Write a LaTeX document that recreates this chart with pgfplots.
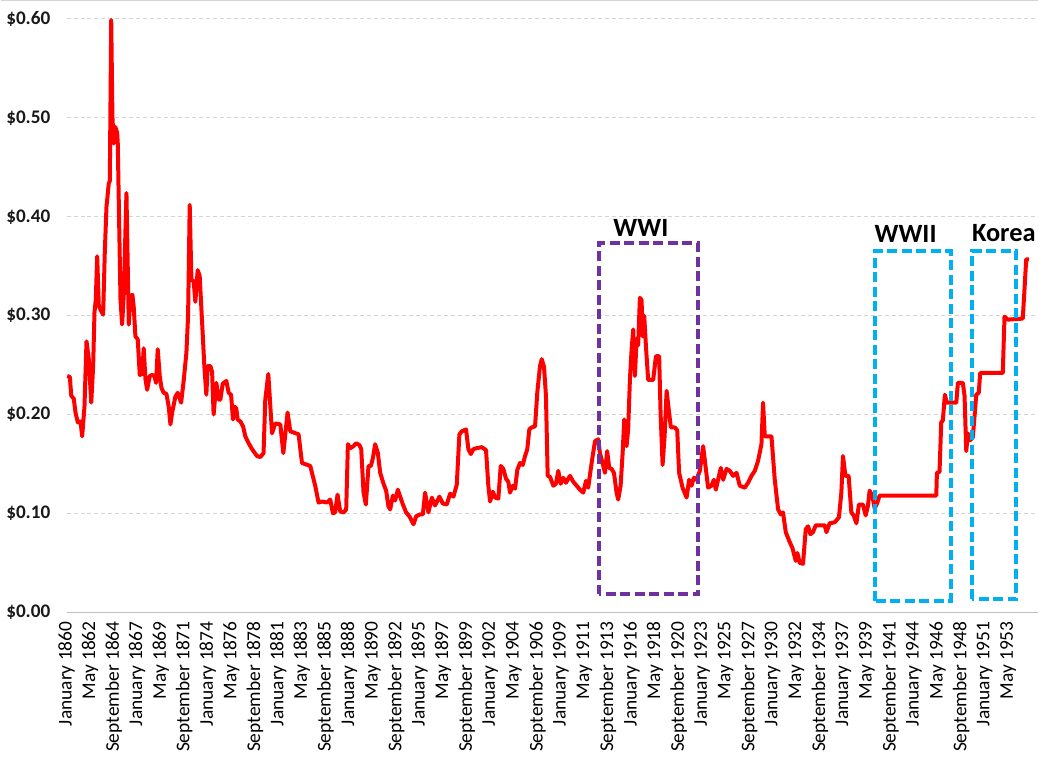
\documentclass[border=0pt]{standalone}
\usepackage{pgfplots}
\pgfplotsset{compat=1.18}
\usepackage{fontspec}
\setmainfont{Carlito}
\definecolor{wwone}{HTML}{7030A0}
\definecolor{wwtwo}{HTML}{00B0F0}
\definecolor{gridc}{HTML}{D4D4D4}
\begin{document}
\begin{tikzpicture}
\begin{axis}[
  scale only axis,
  width=973bp, height=594bp,
  xmin=1860, xmax=1956.33,
  ymin=0, ymax=0.6,
  clip=false,
  axis line style={draw=none},
  axis x line*=bottom,
  ytick={0,0.1,0.2,0.3,0.4,0.5,0.6},
  yticklabels={\$0.00,\$0.10,\$0.20,\$0.30,\$0.40,\$0.50,\$0.60},
  yticklabel style={font=\fontsize{19.3}{20}\selectfont\bfseries, inner sep=0pt, text=black!90},
  yticklabel shift=16bp,
  ymajorgrids,
  major grid style={gridc, line width=1bp, dash pattern=on 4bp off 3bp},
  major tick length=0pt,
  xtick={1860,1862.3333,1864.6667,1867,1869.3333,1871.6667,1874,1876.3333,1878.6667,1881,1883.3333,1885.6667,1888,1890.3333,1892.6667,1895,1897.3333,1899.6667,1902,1904.3333,1906.6667,1909,1911.3333,1913.6667,1916,1918.3333,1920.6667,1923,1925.3333,1927.6667,1930,1932.3333,1934.6667,1937,1939.3333,1941.6667,1944,1946.3333,1948.6667,1951,1953.3333},
  xticklabels={January 1860,May 1862,September 1864,January 1867,May 1869,September 1871,January 1874,May 1876,September 1878,January 1881,May 1883,September 1885,January 1888,May 1890,September 1892,January 1895,May 1897,September 1899,January 1902,May 1904,September 1906,January 1909,May 1911,September 1913,January 1916,May 1918,September 1920,January 1923,May 1925,September 1927,January 1930,May 1932,September 1934,January 1937,May 1939,September 1941,January 1944,May 1946,September 1948,January 1951,May 1953},
  xticklabel style={font=\fontsize{19.5}{20}\selectfont, rotate=90, anchor=east, inner sep=0pt, text=black},
  xticklabel shift=9bp,
]
\draw[gridc!90!black, line width=1.2bp] (axis cs:1860,0) -- (axis cs:1956.33,0);
\addplot[color=red, line width=4bp, line join=round, mark=none] coordinates {
(1860.07,0.239)(1860.33,0.238)(1860.47,0.219)(1860.72,0.216)(1860.89,0.202)(1861.12,0.192)
(1861.39,0.193)(1861.55,0.178)(1861.78,0.208)(1861.98,0.274)(1862.21,0.256)(1862.45,0.212)
(1862.64,0.249)(1862.77,0.303)(1862.90,0.316)(1863.04,0.360)(1863.20,0.310)(1863.37,0.306)
(1863.63,0.301)(1863.79,0.363)(1863.96,0.410)(1864.03,0.417)(1864.19,0.434)(1864.29,0.436)
(1864.43,0.599)(1864.55,0.501)(1864.68,0.474)(1864.82,0.491)(1865.02,0.485)(1865.08,0.474)
(1865.35,0.316)(1865.51,0.291)(1865.67,0.320)(1865.94,0.424)(1866.17,0.291)(1866.34,0.320)
(1866.53,0.321)(1866.66,0.309)(1866.83,0.279)(1867.06,0.276)(1867.26,0.240)(1867.50,0.241)
(1867.65,0.267)(1867.82,0.236)(1867.99,0.225)(1868.25,0.239)(1868.49,0.240)(1868.71,0.239)
(1868.88,0.232)(1869.04,0.266)(1869.24,0.239)(1869.41,0.227)(1869.63,0.222)(1869.90,0.221)
(1870.13,0.208)(1870.30,0.190)(1870.47,0.202)(1870.79,0.218)(1871.02,0.222)(1871.36,0.212)
(1871.61,0.234)(1871.88,0.262)(1872.05,0.300)(1872.21,0.412)(1872.38,0.336)(1872.60,0.335)
(1872.77,0.314)(1873.00,0.346)(1873.20,0.340)(1873.44,0.293)(1873.66,0.249)(1873.86,0.220)
(1873.99,0.249)(1874.26,0.249)(1874.43,0.243)(1874.58,0.200)(1874.85,0.232)(1875.08,0.215)
(1875.25,0.215)(1875.48,0.231)(1875.84,0.234)(1876.07,0.222)(1876.31,0.220)(1876.50,0.195)
(1876.63,0.208)(1876.83,0.206)(1876.96,0.195)(1877.23,0.193)(1877.50,0.188)(1877.72,0.178)
(1878.05,0.171)(1878.39,0.165)(1878.88,0.158)(1879.21,0.157)(1879.53,0.161)(1879.70,0.215)
(1880.00,0.241)(1880.37,0.181)(1880.69,0.191)(1881.19,0.190)(1881.49,0.161)(1881.91,0.202)
(1882.18,0.183)(1883.00,0.180)(1883.34,0.151)(1884.16,0.148)(1884.65,0.128)(1884.98,0.111)
(1885.32,0.112)(1885.81,0.111)(1886.14,0.114)(1886.41,0.100)(1886.63,0.101)(1886.86,0.119)
(1887.13,0.102)(1887.46,0.101)(1887.72,0.104)(1887.89,0.170)(1888.12,0.166)(1888.45,0.168)
(1888.71,0.171)(1889.04,0.169)(1889.21,0.165)(1889.44,0.121)(1889.67,0.109)(1889.93,0.148)
(1890.17,0.148)(1890.37,0.156)(1890.59,0.170)(1890.86,0.161)(1891.09,0.141)(1891.42,0.130)
(1891.68,0.123)(1891.91,0.107)(1892.08,0.104)(1892.35,0.118)(1892.57,0.113)(1892.84,0.124)
(1893.07,0.117)(1893.34,0.109)(1893.66,0.101)(1893.99,0.097)(1894.39,0.089)(1894.65,0.097)
(1895.05,0.099)(1895.32,0.099)(1895.54,0.121)(1895.87,0.101)(1896.21,0.116)(1896.53,0.108)
(1896.96,0.117)(1897.30,0.110)(1897.69,0.109)(1898.02,0.120)(1898.35,0.117)(1898.68,0.129)
(1898.94,0.180)(1899.18,0.183)(1899.60,0.185)(1899.83,0.165)(1900.07,0.160)(1900.33,0.165)
(1900.66,0.166)(1901.16,0.167)(1901.58,0.164)(1901.81,0.128)(1901.98,0.112)(1902.25,0.122)
(1902.48,0.116)(1902.80,0.115)(1903.04,0.148)(1903.30,0.145)(1903.56,0.135)(1903.79,0.132)
(1903.96,0.121)(1904.23,0.128)(1904.46,0.125)(1904.68,0.144)(1904.95,0.151)(1905.22,0.149)
(1905.45,0.158)(1905.67,0.165)(1905.87,0.185)(1906.11,0.187)(1906.44,0.188)(1906.66,0.222)
(1906.93,0.249)(1907.10,0.256)(1907.33,0.248)(1907.52,0.219)(1907.69,0.138)(1907.92,0.137)
(1908.25,0.128)(1908.51,0.130)(1908.74,0.143)(1908.98,0.130)(1909.24,0.136)(1909.50,0.131)
(1909.90,0.138)(1910.23,0.132)(1910.56,0.128)(1910.89,0.124)(1911.22,0.121)(1911.49,0.133)
(1911.71,0.126)(1911.95,0.144)(1912.15,0.158)(1912.38,0.173)(1912.70,0.175)(1912.87,0.161)
(1913.20,0.148)(1913.37,0.141)(1913.59,0.163)(1913.79,0.146)(1914.03,0.145)(1914.26,0.141)
(1914.52,0.121)(1914.68,0.114)(1914.92,0.128)(1915.12,0.161)(1915.28,0.195)(1915.51,0.168)
(1915.67,0.185)(1915.84,0.235)(1916.01,0.266)(1916.17,0.286)(1916.34,0.239)(1916.50,0.276)
(1916.66,0.270)(1916.83,0.318)(1917.00,0.316)(1917.10,0.279)(1917.26,0.300)(1917.43,0.269)
(1917.65,0.235)(1918.15,0.235)(1918.42,0.259)(1918.74,0.259)(1918.88,0.202)(1919.08,0.149)
(1919.28,0.178)(1919.48,0.224)(1919.70,0.204)(1919.90,0.187)(1920.30,0.187)(1920.53,0.184)
(1920.72,0.141)(1921.06,0.126)(1921.46,0.116)(1921.71,0.134)(1921.95,0.128)(1922.18,0.136)
(1922.45,0.134)(1922.77,0.143)(1923.10,0.168)(1923.37,0.145)(1923.59,0.126)(1923.93,0.128)
(1924.16,0.134)(1924.36,0.124)(1924.58,0.134)(1924.85,0.146)(1925.08,0.134)(1925.42,0.145)
(1925.74,0.143)(1926.07,0.138)(1926.41,0.141)(1926.73,0.128)(1927.23,0.126)(1927.55,0.131)
(1927.89,0.138)(1928.22,0.143)(1928.54,0.153)(1928.88,0.170)(1929.04,0.212)(1929.21,0.178)
(1929.87,0.178)(1930.20,0.134)(1930.53,0.104)(1930.79,0.099)(1931.02,0.101)(1931.29,0.081)
(1931.68,0.071)(1931.95,0.065)(1932.28,0.052)(1932.44,0.060)(1932.67,0.050)(1933.00,0.049)
(1933.27,0.084)(1933.50,0.087)(1933.73,0.079)(1933.99,0.081)(1934.26,0.088)(1934.65,0.088)
(1935.15,0.088)(1935.32,0.081)(1935.64,0.090)(1936.14,0.091)(1936.56,0.096)(1936.80,0.121)
(1936.96,0.158)(1937.20,0.138)(1937.52,0.138)(1937.79,0.101)(1938.02,0.098)(1938.29,0.090)
(1938.54,0.109)(1938.94,0.109)(1939.21,0.098)(1939.44,0.108)(1939.60,0.123)(1939.87,0.118)
(1940.10,0.105)(1940.33,0.110)(1940.59,0.118)(1946.21,0.118)(1946.27,0.141)(1946.53,0.142)
(1946.70,0.192)(1946.86,0.194)(1947.06,0.220)(1947.26,0.212)(1948.19,0.212)(1948.35,0.232)
(1948.84,0.232)(1949.01,0.219)(1949.18,0.163)(1949.34,0.181)(1949.57,0.174)(1949.83,0.177)
(1950.03,0.202)(1950.17,0.220)(1950.42,0.222)(1950.56,0.242)(1952.80,0.242)(1952.97,0.299)
(1953.30,0.296)(1954.78,0.297)(1954.95,0.326)(1955.12,0.357)(1955.38,0.357)
};
\draw[wwone, line width=4bp, dash pattern=on 10bp off 4.5bp] (axis cs:1912.77,0.018) rectangle (axis cs:1922.60,0.373);
\draw[wwtwo, line width=4bp, dash pattern=on 10bp off 4.5bp] (axis cs:1940.10,0.0114) rectangle (axis cs:1947.62,0.365);
\draw[wwtwo, line width=4bp, dash pattern=on 10bp off 4.5bp] (axis cs:1949.77,0.013) rectangle (axis cs:1954.13,0.365);
\node[anchor=base, inner sep=0pt, font=\fontsize{26.5}{28}\selectfont\bfseries] at (axis cs:1916.93,0.380) {WWI};
\node[anchor=base, inner sep=0pt, font=\fontsize{26.5}{28}\selectfont\bfseries] at (axis cs:1943.17,0.374) {WWII};
\node[anchor=base, inner sep=0pt, font=\fontsize{26.5}{28}\selectfont\bfseries] at (axis cs:1952.90,0.375) {Korea};
\coordinate (o) at (rel axis cs:0,0);
\end{axis}
\pgfresetboundingbox
\path (o) ++(-66bp,-146bp) rectangle ++(1039bp,759bp);
\draw[gridc, line width=1.2bp] (o) ++(-66bp,612.4bp) -- ++(1039bp,0);
\end{tikzpicture}
\end{document}
